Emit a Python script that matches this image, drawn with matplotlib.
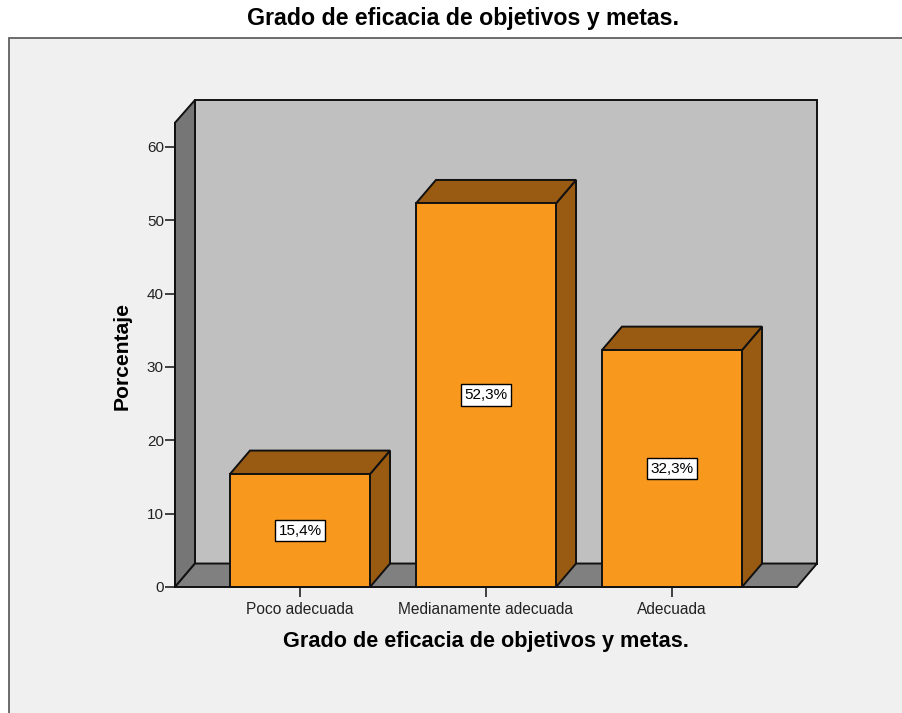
import matplotlib
matplotlib.use("Agg")
import matplotlib.pyplot as plt
from matplotlib.patches import Polygon, Rectangle

plt.rcParams['font.family'] = ['Liberation Sans', 'DejaVu Sans']

categories = ["Poco adecuada", "Medianamente adecuada", "Adecuada"]
values = [15.4, 52.3, 32.3]
value_labels = ["15,4%", "52,3%", "32,3%"]
yticks = [0, 10, 20, 30, 40, 50, 60]
title = "Grado de eficacia de objetivos y metas."
xlabel = "Grado de eficacia de objetivos y metas."
ylabel = "Porcentaje"

# style / layout constants
W = 0.753          # bar width (category units)
DX = 0.1075        # depth offset x (category units)
DY = 3.2           # depth offset y (value units)
X0, X1 = -0.672, 2.672
YTOP_FRONT = 63.3
YTOP = 66.4
FRONT = '#f8981d'
DARK = '#995a12'
EDGE = '#111111'
LW = 1.4

fig = plt.figure(figsize=(9.03, 7.13), dpi=100)
fig.patch.set_facecolor('white')
panel = Rectangle((9/903, -0.05), 1.2, (713-38)/713 + 0.05,
                  transform=fig.transFigure, facecolor='#f0f0f0',
                  edgecolor='#606060', lw=1.3, zorder=-10)
fig.patches.append(panel)
fig.text(463/903, 1 - 18/713, title, ha='center', va='center',
         fontsize=16.7, fontweight='bold', color='black')

ax = fig.add_axes([175/903, (713-587)/713, 642/903, 487/713])
ax.set_zorder(1)
ax.set_xlim(X0, X0 + 642/186)
ax.set_ylim(0, YTOP)
ax.patch.set_visible(False)
for s in ['top', 'right', 'bottom', 'left']:
    ax.spines[s].set_visible(False)

def poly(pts, fc, z):
    p = Polygon(pts, closed=True, facecolor=fc, edgecolor=EDGE, lw=LW,
                clip_on=False, zorder=z, joinstyle='miter')
    ax.add_patch(p)

# walls and floor
poly([(X0+DX, DY), (X1+DX, DY), (X1+DX, YTOP), (X0+DX, YTOP)], '#c0c0c0', 1)
poly([(X0, 0), (X0+DX, DY), (X0+DX, YTOP), (X0, YTOP_FRONT)], '#767676', 1)
poly([(X0, 0), (X1, 0), (X1+DX, DY), (X0+DX, DY)], '#808080', 1)

# bars
for i, v in enumerate(values):
    l, r = i - W/2, i + W/2
    poly([(r, 0), (r+DX, DY), (r+DX, v+DY), (r, v)], DARK, 2)
    poly([(l, v), (l+DX, v+DY), (r+DX, v+DY), (r, v)], DARK, 2)
    poly([(l, 0), (r, 0), (r, v), (l, v)], FRONT, 3)
    ax.text(i, v/2, value_labels[i], ha='center', va='center', fontsize=11,
            color='black', zorder=5,
            bbox=dict(boxstyle='square,pad=0.25', facecolor='white',
                      edgecolor='black', lw=1))

# y axis line on front-left edge
ax.plot([X0, X0], [0, YTOP_FRONT], color=EDGE, lw=LW, clip_on=False, zorder=4)

ax.set_yticks(yticks)
ax.set_yticklabels([str(t) for t in yticks])
ax.set_xticks(range(len(categories)))
ax.set_xticklabels(categories)
ax.tick_params(axis='y', direction='out', length=7, width=1.2, pad=1,
               labelsize=11, colors='#222222')
ax.tick_params(axis='x', direction='out', length=7.5, width=1.2, pad=3,
               labelsize=11.2, colors='#222222')

ax.set_xlabel(xlabel, fontsize=15.6, fontweight='bold')
ax.xaxis.set_label_coords((486-175)/642, -(642-587)/487)
ax.xaxis.label.set_va('center')
ax.set_ylabel(ylabel, fontsize=15.2, fontweight='bold')
ax.yaxis.set_label_coords(-(175-132)/642, (587-356)/487)
ax.yaxis.label.set_va('bottom')

fig.savefig('out.png', dpi=100)
